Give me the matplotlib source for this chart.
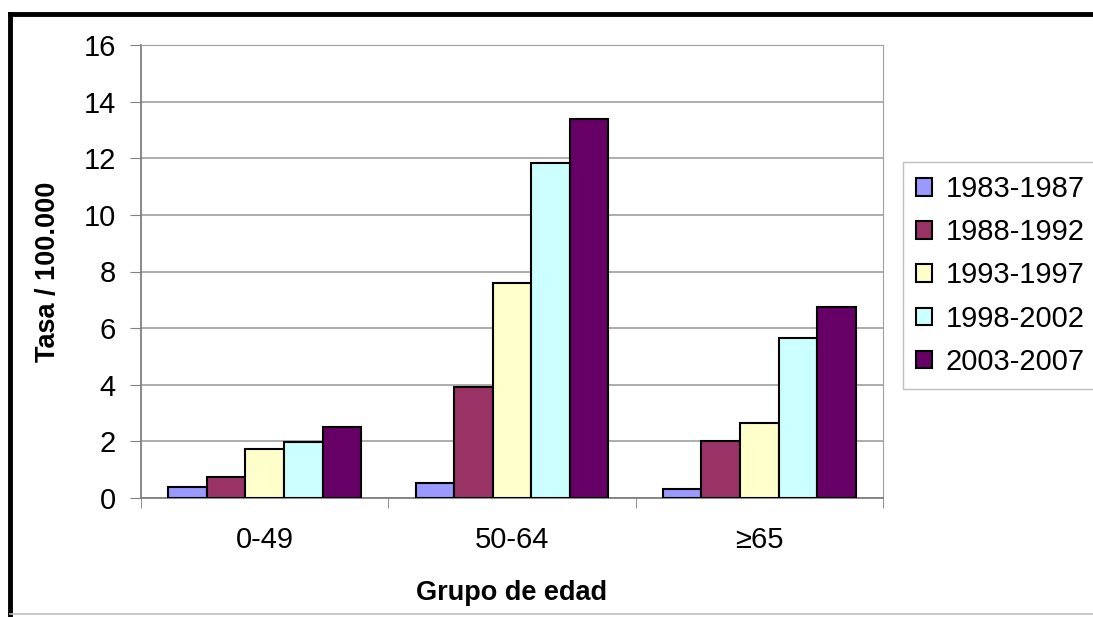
import matplotlib.pyplot as plt
import numpy as np
from matplotlib.lines import Line2D

plt.rcParams['font.family'] = ['Liberation Sans', 'DejaVu Sans']

grupos = ['0-49', '50-64', '≥65']
periodos = ['1983-1987', '1988-1992', '1993-1997', '1998-2002', '2003-2007']
tasa_1983 = [0.40, 0.54, 0.33]
tasa_1988 = [0.75, 3.91, 2.01]
tasa_1993 = [1.72, 7.61, 2.66]
tasa_1998 = [1.99, 11.83, 5.64]
tasa_2003 = [2.50, 13.38, 6.76]
series = [tasa_1983, tasa_1988, tasa_1993, tasa_1998, tasa_2003]
colores = ['#9999FF', '#993366', '#FFFFCC', '#CCFFFF', '#660066']

fs = 21

fig = plt.figure(figsize=(10.93, 6.17), dpi=100)
ax = fig.add_axes([141/1093, 1 - 498/617, (883 - 141)/1093, (498 - 45)/617])

x = np.arange(len(grupos))
w = 0.156
for i, (vals, col, lab) in enumerate(zip(series, colores, periodos)):
    ax.bar(x + (i - 2) * w, vals, w, color=col, edgecolor='black',
           linewidth=1.5, label=lab, zorder=3)

ax.set_xlim(-0.5, 2.5)
ax.set_ylim(0, 16)
ax.set_yticks(range(0, 17, 2))
ax.yaxis.grid(True, color='#a0a0a0', linewidth=1.2, zorder=0)
ax.set_xticks(x)
ax.set_xticklabels(grupos)
ax.set_xticks([-0.5, 0.5, 1.5, 2.5], minor=True)
ax.tick_params(axis='x', which='major', length=0, pad=20, labelsize=fs)
ax.tick_params(axis='x', which='minor', length=7, color='#808080')
ax.tick_params(axis='y', length=8, color='#808080', labelsize=fs, pad=10)

for s in ['top', 'right']:
    ax.spines[s].set_color('#a0a0a0')
for s in ['left', 'bottom']:
    ax.spines[s].set_color('#808080')
    ax.spines[s].set_linewidth(1.3)

ax.set_xlabel('Grupo de edad', fontsize=19.5, fontweight='bold', labelpad=19)
ax.set_ylabel('Tasa / 100.000', fontsize=19.5, fontweight='bold', labelpad=16)

leg = ax.legend(loc='upper left', bbox_to_anchor=(903/1093, 1 - 162/617),
                bbox_transform=fig.transFigure, fontsize=fs, frameon=True,
                fancybox=False, edgecolor='#b0b0b0', handlelength=0.55,
                handleheight=0.55, handletextpad=0.45, labelspacing=0.52,
                borderpad=0.45, borderaxespad=0)
leg.get_frame().set_linewidth(1.0)

# marco exterior
fig.add_artist(Line2D([10/1093, 10/1093], [0, 1 - 14/617], color='black', linewidth=3.5))
fig.add_artist(Line2D([10/1093, 1], [1 - 14/617, 1 - 14/617], color='black', linewidth=3.5))
fig.add_artist(Line2D([10/1093, 1], [3/617, 3/617], color='#c0c0c0', linewidth=1.2))

fig.savefig('out.png', dpi=100)
